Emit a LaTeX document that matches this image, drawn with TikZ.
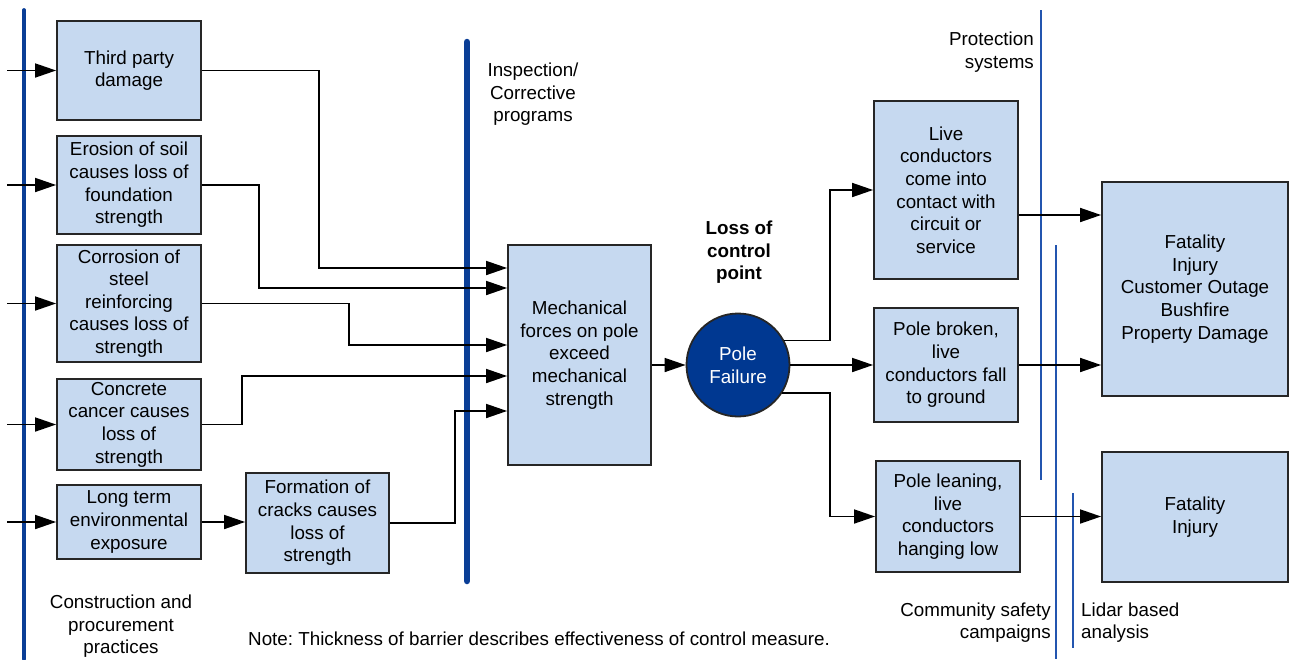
\documentclass[tikz,border=0pt]{standalone}
\usepackage{fontspec}
\setmainfont{Liberation Sans}
\usetikzlibrary{arrows.meta,calc}
\frenchspacing
\definecolor{boxfill}{RGB}{198,217,240}
\definecolor{barblue}{RGB}{10,62,150}
\definecolor{thinblue}{RGB}{35,85,175}
\definecolor{circblue}{RGB}{0,56,145}
\tikzset{
  box/.style={draw=black!85, fill=boxfill, line width=1.8pt, inner sep=0pt, align=center,
    font=\fontsize{18.8}{22.6}\selectfont},
  conn/.style={line width=1.7pt, black},
  arr/.style={conn, -{Triangle[length=21pt,width=14pt]}},
  barthick/.style={line width=6.5pt, barblue, line cap=round},
  barmid/.style={line width=3.8pt, barblue, line cap=round},
  barthin/.style={line width=1.8pt, thinblue},
  lbl/.style={font=\fontsize{18.8}{22.6}\selectfont, inner sep=0pt},
}
\begin{document}
\begin{tikzpicture}[x=1pt,y=-1pt]
\useasboundingbox (0,0) rectangle (1290,659);
% barriers
\draw[barmid] (24,10) -- (24,659);
\draw[barthick] (467,42) -- (467,581);
\draw[barthin] (1041,10) -- (1041,480);
\draw[barthin] (1056,245) -- (1056,659);
\draw[barthin] (1073,493) -- (1073,648);
% left boxes
\node[box, minimum width=144pt, minimum height=99pt] (tp) at (129,70.5) {Third party\\damage};
\node[box, minimum width=144pt, minimum height=98pt] (er) at (129,185) {Erosion of soil\\causes loss of\\foundation\\strength};
\node[box, minimum width=144pt, minimum height=117pt] (co) at (129,303.5) {Corrosion of\\steel\\reinforcing\\causes loss of\\strength};
\node[box, minimum width=144pt, minimum height=91pt] (cc) at (129,424.5) {Concrete\\cancer causes\\loss of\\strength};
\node[box, minimum width=144pt, minimum height=74pt] (lt) at (129,522) {Long term\\environmental\\exposure};
\node[box, minimum width=143pt, minimum height=100pt] (fo) at (317.5,523) {Formation of\\cracks causes\\loss of\\strength};
\node[box, minimum width=143pt, minimum height=220pt] (me) at (579.5,355) {Mechanical\\forces on pole\\exceed\\mechanical\\strength};
\node[circle, draw=black!85, line width=1.8pt, fill=circblue, text=white, minimum size=103pt, inner sep=0pt, align=center,
  font=\fontsize{18.8}{22.6}\selectfont] (pf) at (738,365) {Pole\\Failure};
\node[box, minimum width=144pt, minimum height=178pt] (lc) at (946,190) {Live\\conductors\\come into\\contact with\\circuit or\\service};
\node[box, minimum width=144pt, minimum height=114pt] (pb) at (946,365) {Pole broken,\\live\\conductors fall\\to ground};
\node[box, minimum width=144pt, minimum height=111pt] (pl) at (948,516.5) {Pole leaning,\\live\\conductors\\hanging low};
\node[box, minimum width=186pt, minimum height=214pt] (fa) at (1195,289) {Fatality\\Injury\\Customer Outage\\Bushfire\\Property Damage};
\node[box, minimum width=186pt, minimum height=130pt] (fi) at (1195,517) {Fatality\\Injury};
% labels
\node[lbl, align=center] (l1) at (533,94.5) {Inspection/\\Corrective\\programs};
\node[lbl, align=center, font=\fontsize{18.8}{22.6}\selectfont\bfseries] (l2) at (739,252.5) {Loss of\\control\\point};
\node[lbl, align=right, anchor=east] (l3) at (1034,52) {Protection\\systems};
\node[lbl, align=right, anchor=east] (l4) at (1051,622.5) {Community safety\\campaigns};
\node[lbl, align=left, anchor=west] (l5) at (1081,622.5) {Lidar based\\analysis};
\node[lbl, align=center] (l6) at (121,626.5) {Construction and\\procurement\\practices};
\node[lbl, anchor=west] (l7) at (248,639) {Note: Thickness of barrier describes effectiveness of control measure.};
% coordinates
\coordinate (L) at (7,0);
\coordinate (y1) at (0,268);
\coordinate (y2) at (0,288);
\coordinate (y3) at (0,345);
\coordinate (y4) at (0,376);
\coordinate (y5) at (0,411);
\coordinate (bx) at (830,0);
\coordinate (r1) at (0,215);
% input arrows
\draw[arr] (L |- tp.west) -- (tp.west);
\draw[arr] (L |- er.west) -- (er.west);
\draw[arr] (L |- co.west) -- (co.west);
\draw[arr] (L |- cc.west) -- (cc.west);
\draw[arr] (L |- lt.west) -- (lt.west);
\draw[arr] (lt.east) -- (lt.east -| fo.west);
% to mechanical
\draw[arr] (tp.east) -| (319,268) -- (y1 -| me.west);
\draw[arr] (er.east) -| (259,288) -- (y2 -| me.west);
\draw[arr] (co.east) -| (349,345) -- (y3 -| me.west);
\draw[arr] (cc.east) -| (242,376) -- (y4 -| me.west);
\draw[arr] (fo.east) -| (455,411) -- (y5 -| me.west);
\draw[arr] (me.east |- pf.west) -- (pf.west);
% from pole failure
\draw[arr] (pf.28) -| (bx |- lc.west) -- (lc.west);
\draw[arr] (pf.east) -- (pb.west);
\draw[arr] (pf.-32) -| (bx |- pl.west) -- (pl.west);
% to consequences
\draw[arr] (r1 -| lc.east) -- (r1 -| fa.west);
\draw[arr] (pb.east) -- (pb.east -| fa.west);
\draw[arr] (pl.east) -- (pl.east -| fi.west);
\end{tikzpicture}
\end{document}
